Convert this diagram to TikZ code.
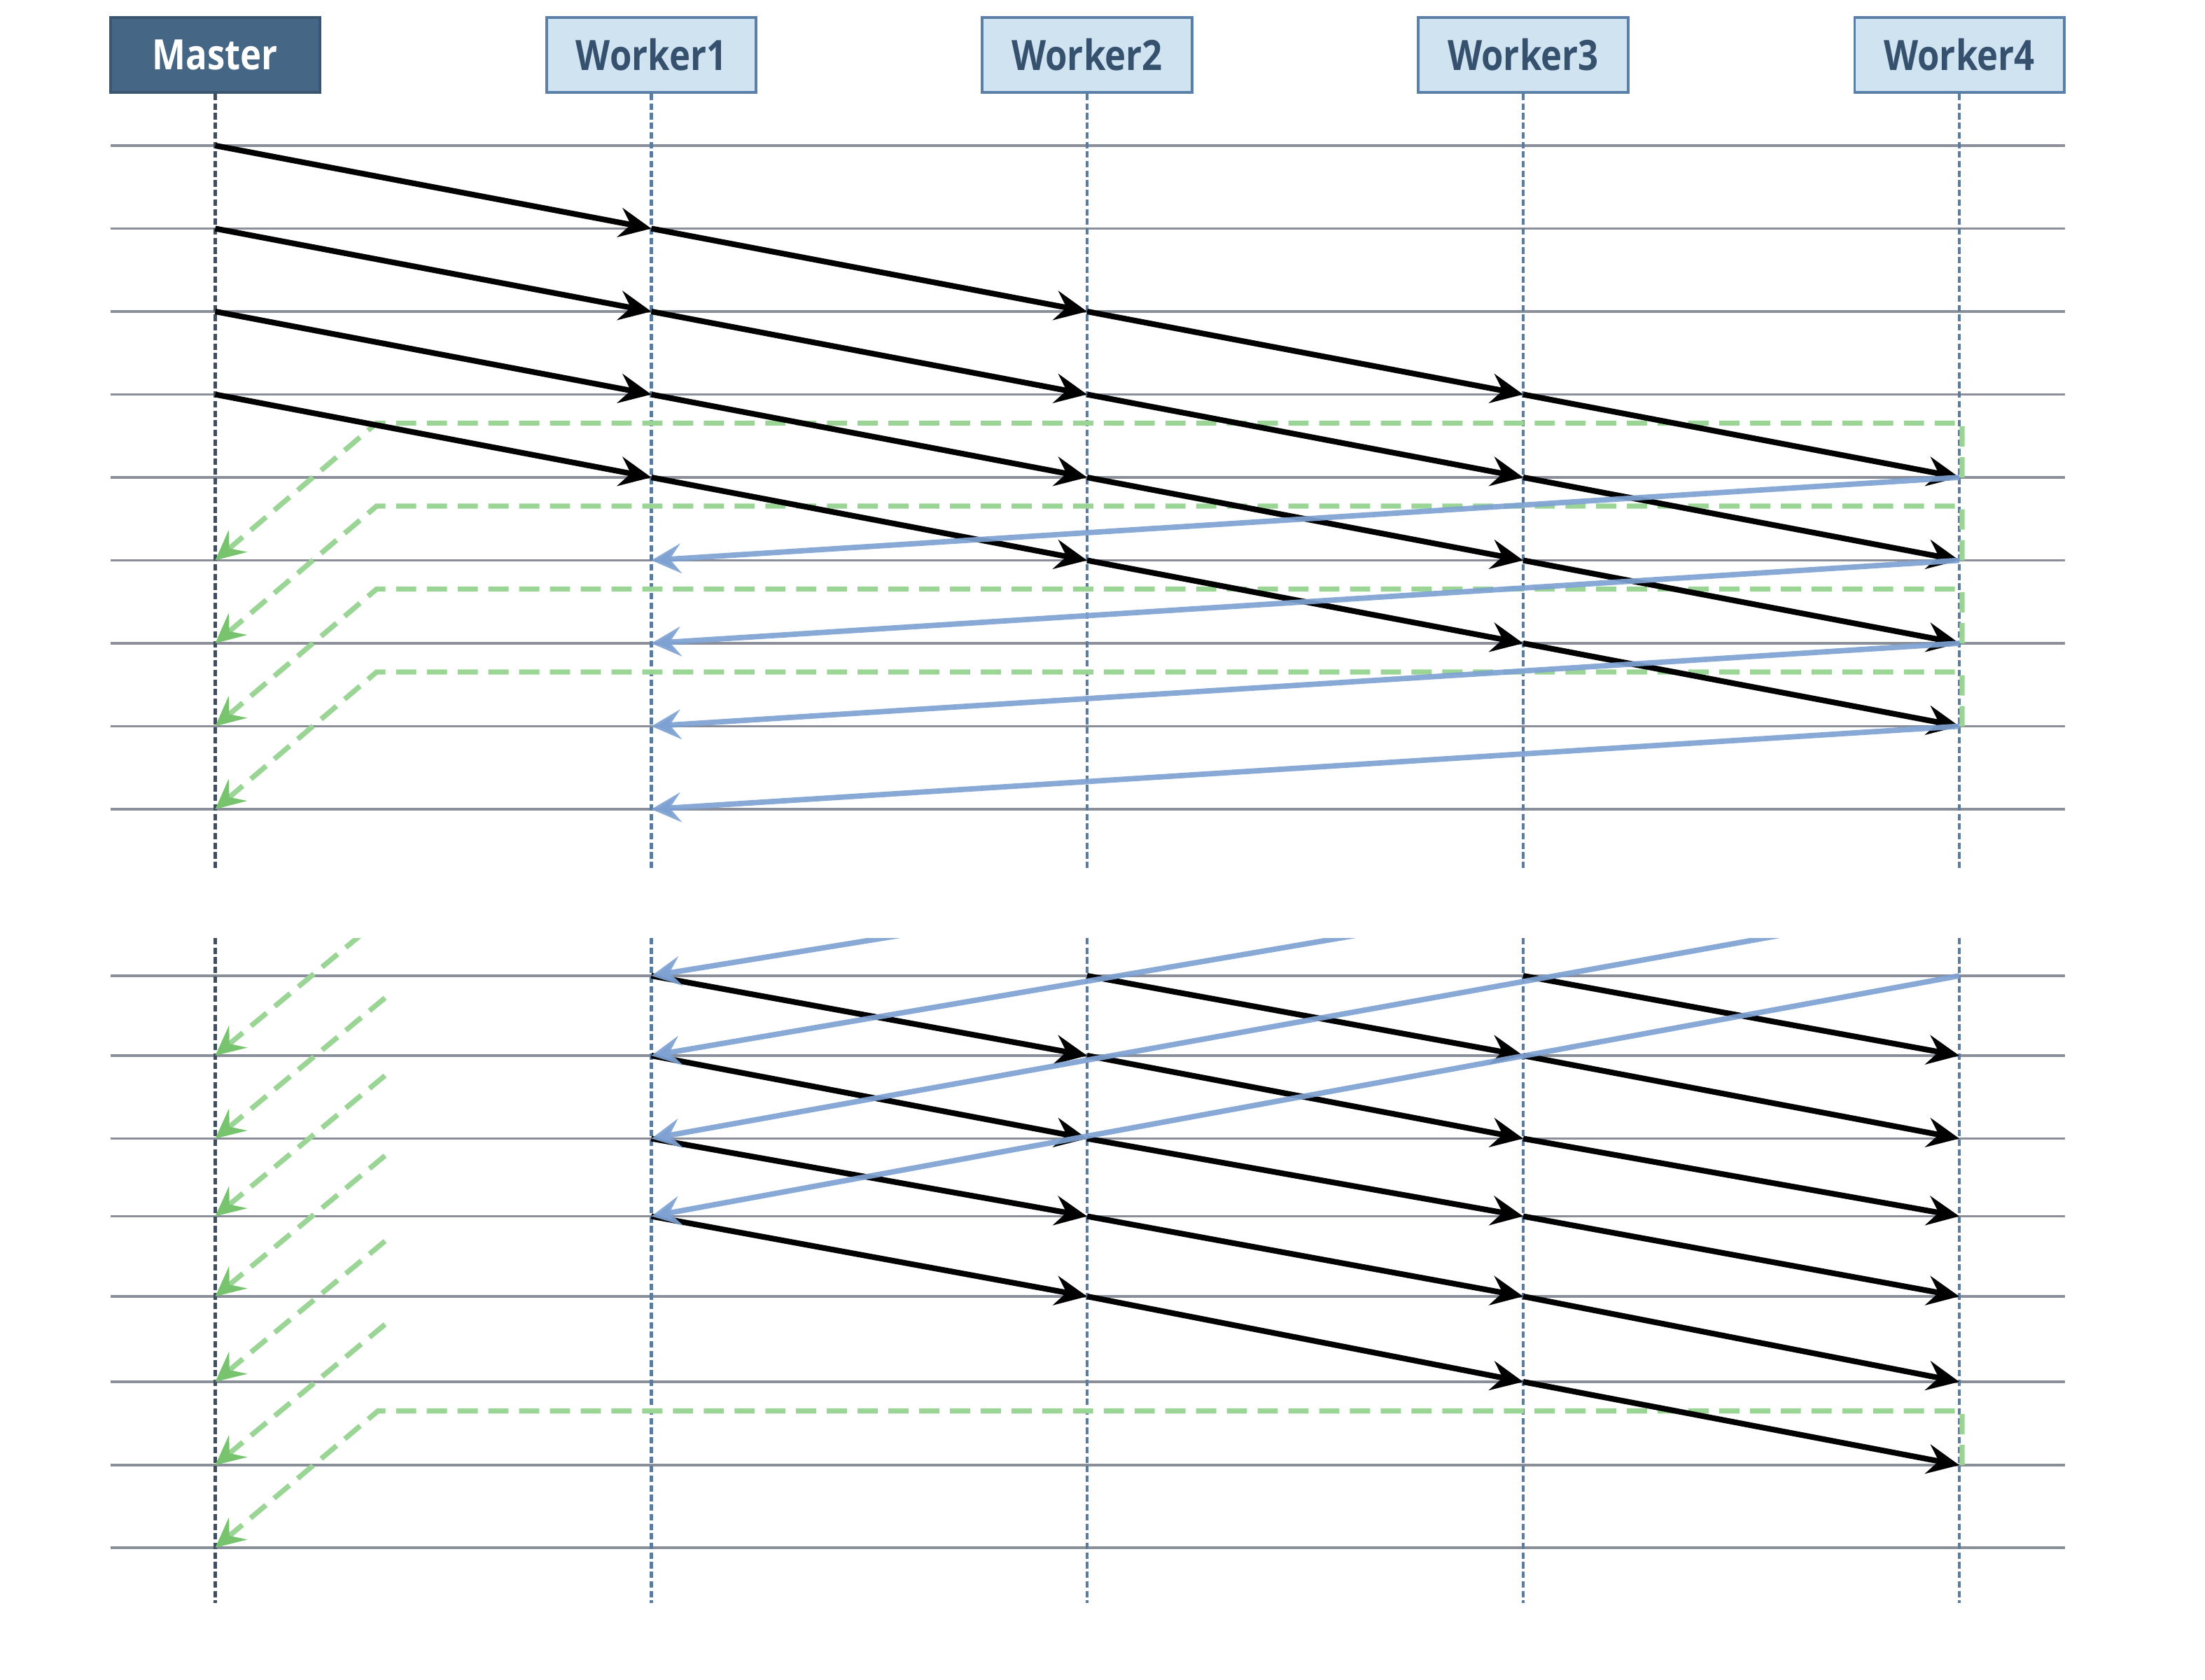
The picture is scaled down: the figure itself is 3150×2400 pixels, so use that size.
\documentclass[tikz,border=0pt]{standalone}
\usepackage{fontspec}
\setmainfont{Open Sans}
\newfontfamily\boxfont{Open Sans}[FakeStretch=0.85]
\usetikzlibrary{arrows.meta}
\definecolor{mfill}{HTML}{466685}
\definecolor{mborder}{HTML}{3B556E}
\definecolor{wfill}{HTML}{D0E3F1}
\definecolor{wborder}{HTML}{5B80A7}
\definecolor{wtext}{HTML}{36516E}
\definecolor{mline}{HTML}{3C4F63}
\definecolor{wline}{HTML}{5B7C9E}
\definecolor{rowgrey}{HTML}{8A8E99}
\definecolor{retblue}{HTML}{7EA1D3}
\definecolor{ackgreen}{HTML}{9AD596}
\definecolor{ackhead}{HTML}{78C46E}
\begin{document}
\begin{tikzpicture}[x=0.01cm,y=-0.01cm,
  rowline/.style={draw=rowgrey, line width=1.1pt},
  lifeM/.style={draw=mline, line width=1.15pt, dash pattern=on 2.6pt off 1.3pt},
  lifeW/.style={draw=wline, line width=1.15pt, dash pattern=on 2.6pt off 1.3pt},
  msg/.style={draw=black, line width=2.3pt, -{Stealth[length=13pt,width=12pt,inset=4.5pt]}},
  ret/.style={draw=retblue, line width=2.2pt, draw opacity=0.92, -{Stealth[length=12pt,width=12pt,inset=4.5pt]}},
  ack/.style={draw=ackgreen, line width=2.1pt, dash pattern=on 8.2pt off 4.3pt, -{Stealth[length=12pt,width=11.5pt,inset=4.5pt,color=ackhead]}},
  masterbox/.style={draw=mborder, fill=mfill, line width=1.1pt, minimum width=2.99cm, minimum height=1.07cm, inner sep=0pt, text=white, font=\boxfont\bfseries\fontsize{17}{19}\selectfont},
  workerbox/.style={draw=wborder, fill=wfill, line width=1.1pt, minimum width=2.99cm, minimum height=1.07cm, inner sep=0pt, text=wtext, font=\boxfont\bfseries\fontsize{17}{19}\selectfont}]
\useasboundingbox (0,0) rectangle (3150,2400);

% named coordinates on lifelines
\foreach \j/\x in {0/307.5,1/930.5,2/1553,3/2176,4/2799}{
  \foreach \i in {0,...,8}{
    \coordinate (T\j-\i) at (\x,{208+118.5*\i});
  }
  \foreach \yy [count=\i from 0] in {1394,1508,1626.5,1737.5,1852,1974,2093,2211}{
    \coordinate (B\j-\i) at (\x,\yy);
  }
  \coordinate (LT\j) at (\x,1241);
  \coordinate (LB\j) at (\x,1340);
  \coordinate (LE\j) at (\x,2290);
}

% horizontal rows
\foreach \i in {0,...,8}{
  \draw[rowline] (158,{208+118.5*\i}) -- (2950,{208+118.5*\i});
}
\foreach \yy in {1394,1508,1626.5,1737.5,1852,1974,2093,2211}{
  \draw[rowline] (158,\yy) -- (2950,\yy);
}

% boxes
\node[masterbox] (M) at (307.5,78.5) {Master};
\node[workerbox] (W1) at (930.5,78.5) {Worker1};
\node[workerbox] (W2) at (1553,78.5) {Worker2};
\node[workerbox] (W3) at (2176,78.5) {Worker3};
\node[workerbox] (W4) at (2799,78.5) {Worker4};

% lifelines
\draw[lifeM] (M.south) -- (LT0);
\draw[lifeM] (LB0) -- (LE0);
\foreach \j in {1,...,4}{
  \draw[lifeW] (W\j.south) -- (LT\j);
  \draw[lifeW] (LB\j) -- (LE\j);
}

% ---------- top section ----------
% green acknowledgements
\foreach \i in {4,...,7}{
  \pgfmathtruncatemacro\b{\i+1}
  \coordinate (GV\i) at ([xshift=0.04cm]T4-\i);
  \coordinate (GA\i) at (2803,{208+118.5*(\i-1)+41});
  \coordinate (GB\i) at (538,{208+118.5*(\i-1)+41});
  \draw[ack] (GV\i) -- (GA\i) -- (GB\i) -- (T0-\b);
}
% black messages
\foreach \m in {0,...,3}{
  \foreach \j in {0,...,3}{
    \pgfmathtruncatemacro\a{\m+\j}
    \pgfmathtruncatemacro\b{\m+\j+1}
    \pgfmathtruncatemacro\jn{\j+1}
    \draw[msg] (T\j-\a) -- (T\jn-\b);
  }
}
% blue returns
\foreach \i in {4,...,7}{
  \pgfmathtruncatemacro\b{\i+1}
  \draw[ret] (T4-\i) -- (T1-\b);
}

% ---------- bottom section ----------
\begin{scope}
  \clip (0,1340) rectangle (3150,2400);
  % green acknowledgements
  \foreach \i/\yy in {1/1508,2/1626.5,3/1737.5,4/1852,5/1974,6/2093}{
    \coordinate (GS\i) at (550,{\yy-201});
    \draw[ack] (GS\i) -- (B0-\i);
  }
  \coordinate (GV8) at ([xshift=0.04cm]B4-6);
  \coordinate (GA8) at (2803,2015.6);
  \coordinate (GB8) at (540,2015.6);
  \draw[ack] (GV8) -- (GA8) -- (GB8) -- (B0-7);
  % black messages
  \foreach \i in {0,...,3}{
    \pgfmathtruncatemacro\b{\i+1}
    \draw[msg] (B1-\i) -- (B2-\b);
  }
  \foreach \i in {0,...,4}{
    \pgfmathtruncatemacro\b{\i+1}
    \draw[msg] (B2-\i) -- (B3-\b);
  }
  \foreach \i in {0,...,5}{
    \pgfmathtruncatemacro\b{\i+1}
    \draw[msg] (B3-\i) -- (B4-\b);
  }
  % blue returns
  \coordinate (V0) at (2799,1090);
  \coordinate (V1) at (2799,1189);
  \coordinate (V2) at (2799,1290);
  \draw[ret] (V0) -- (B1-0);
  \draw[ret] (V1) -- (B1-1);
  \draw[ret] (V2) -- (B1-2);
  \draw[ret] (B4-0) -- (B1-3);
\end{scope}
\end{tikzpicture}
\end{document}
